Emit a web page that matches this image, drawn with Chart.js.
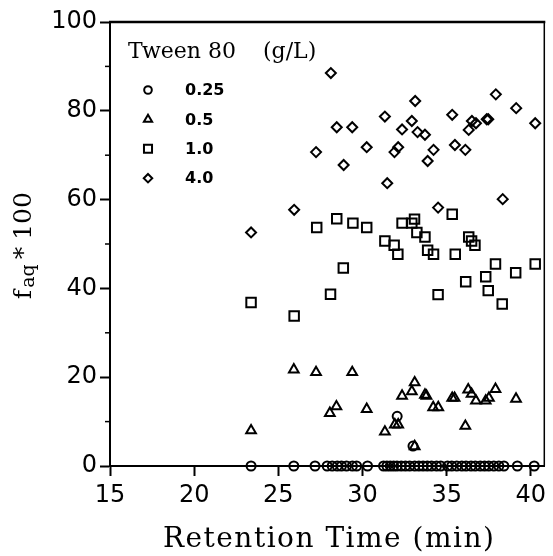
<!DOCTYPE html>
<html><head><meta charset="utf-8">
<script src="https://cdn.jsdelivr.net/npm/chart.js@4.4.0/dist/chart.umd.min.js"></script>
<style>html,body{margin:0;padding:0;background:#fff;}canvas{display:block;}</style>
</head><body>
<canvas id="c" width="553" height="556"></canvas>
<script>
// ---- data ----
const seriesNames = ['0.25', '0.5', '1.0', '4.0'];
const legendTitle = 'Tween 80';
const legendUnit = '(g/L)';
const xTitle = 'Retention Time (min)';
const xTicks = [15, 20, 25, 30, 35, 40];
const yTicks = [0, 20, 40, 60, 80, 100];
const yMinorTicks = [10, 30, 50, 70, 90];

// 0.25 g/L (circles)
const timeC = [23.38, 25.92, 27.18, 27.9, 28.2, 28.5, 28.75, 29.05, 29.4, 29.65, 30.3, 31.25, 31.45, 31.65, 31.85, 32.05, 32.06, 32.3, 32.55, 32.8, 33.0, 33.1, 33.35, 33.6, 33.85, 34.1, 34.4, 34.65, 35.05, 35.3, 35.6, 35.9, 36.15, 36.45, 36.7, 37.0, 37.25, 37.5, 37.8, 38.1, 38.4, 39.2, 40.2];
const faqC  = [0, 0, 0, 0, 0, 0, 0, 0, 0, 0, 0, 0, 0, 0, 0, 0, 11.2, 0, 0, 0, 4.5, 0, 0, 0, 0, 0, 0, 0, 0, 0, 0, 0, 0, 0, 0, 0, 0, 0, 0, 0, 0, 0, 0];
// 0.5 g/L (triangles)
const timeT = [23.38, 25.92, 27.24, 28.06, 28.45, 29.39, 30.25, 31.33, 31.92, 32.12, 32.35, 32.93, 33.1, 33.1, 33.71, 33.8, 34.2, 34.5, 35.33, 35.47, 36.11, 36.28, 36.48, 36.74, 37.32, 37.51, 37.9, 39.12];
const faqT  = [8.0, 21.7, 21.1, 11.9, 13.4, 21.1, 12.8, 7.7, 9.3, 9.3, 15.8, 16.8, 18.8, 4.4, 16.0, 15.8, 13.2, 13.2, 15.3, 15.3, 9.0, 17.2, 16.2, 14.7, 14.7, 15.3, 17.3, 15.1];
// 1.0 g/L (squares)
const timeS = [23.38, 25.94, 27.28, 28.1, 28.47, 28.86, 29.43, 30.25, 31.33, 31.88, 32.1, 32.35, 32.93, 33.09, 33.23, 33.71, 33.87, 34.22, 34.49, 35.33, 35.51, 36.13, 36.31, 36.48, 36.68, 37.32, 37.47, 37.9, 38.3, 39.1, 40.26];
const faqS  = [36.8, 33.8, 53.7, 38.7, 55.7, 44.6, 54.7, 53.7, 50.7, 49.7, 47.7, 54.7, 54.7, 55.6, 52.6, 51.6, 48.6, 47.7, 38.6, 56.7, 47.7, 41.5, 51.6, 50.7, 49.7, 42.6, 39.5, 45.5, 36.5, 43.5, 45.5];
// 4.0 g/L (diamonds)
const timeD = [23.38, 25.94, 27.24, 28.12, 28.47, 28.88, 29.39, 30.25, 31.33, 31.47, 31.9, 32.12, 32.35, 32.93, 33.13, 33.27, 33.71, 33.87, 34.22, 34.49, 35.33, 35.49, 36.11, 36.31, 36.5, 36.74, 37.38, 37.47, 37.92, 38.33, 39.13, 40.26];
const faqD  = [52.6, 57.7, 70.7, 88.5, 76.3, 67.8, 76.3, 71.8, 78.7, 63.7, 70.7, 71.8, 75.8, 77.7, 82.2, 75.2, 74.6, 68.7, 71.2, 58.2, 79.1, 72.3, 71.2, 75.7, 77.7, 77.2, 78.1, 78.1, 83.7, 60.1, 80.6, 77.2];

// ---- styles ----
const pointStyles = ['circle', 'triangle', 'rect', 'rectRot'];
const radii = [4.5, 5.6, 6.7, 5];
const zip = (a, b) => a.map((v, i) => ({x: v, y: b[i]}));
const series = [zip(timeC, faqC), zip(timeT, faqT), zip(timeS, faqS), zip(timeD, faqD)];

function drawMarker(ctx, style, x, y, r) {
  ctx.beginPath();
  if (style === 'circle') {
    ctx.arc(x, y, r, 0, Math.PI * 2);
  } else if (style === 'triangle') {
    for (let k = 0; k < 3; k++) {
      const a = -Math.PI / 2 + k * 2 * Math.PI / 3;
      const px = x + Math.cos(a) * r, py = y + Math.sin(a) * r;
      k ? ctx.lineTo(px, py) : ctx.moveTo(px, py);
    }
    ctx.closePath();
  } else if (style === 'rect') {
    const h = r * Math.SQRT1_2;
    ctx.rect(x - h, y - h, 2 * h, 2 * h);
  } else {
    ctx.moveTo(x, y - r); ctx.lineTo(x + r, y); ctx.lineTo(x, y + r); ctx.lineTo(x - r, y); ctx.closePath();
  }
  ctx.stroke();
}

const decor = {
  id: 'decor',
  afterDraw(chart) {
    const {ctx, chartArea: a, scales: {y}} = chart;
    ctx.save();
    ctx.strokeStyle = '#000';
    ctx.fillStyle = '#000';
    // top & right frame
    ctx.lineWidth = 2.5;
    ctx.beginPath(); ctx.moveTo(a.left - 1, a.top); ctx.lineTo(a.right + 1, a.top); ctx.stroke();
    ctx.lineWidth = 1.5;
    ctx.beginPath(); ctx.moveTo(a.right, a.top); ctx.lineTo(a.right, a.bottom); ctx.stroke();
    // minor y ticks
    ctx.lineWidth = 1.5;
    yMinorTicks.forEach(v => {
      const py = y.getPixelForValue(v);
      ctx.beginPath(); ctx.moveTo(a.left - 5, py); ctx.lineTo(a.left, py); ctx.stroke();
    });
    // legend
    ctx.textAlign = 'left';
    ctx.textBaseline = 'alphabetic';
    ctx.font = '22px "DejaVu Serif"';
    ctx.fillText(legendTitle, a.left + 18, a.top + 36);
    ctx.fillText(legendUnit, a.left + 153, a.top + 36);
    ctx.font = 'bold 16px "DejaVu Sans"';
    ctx.textBaseline = 'middle';
    ctx.lineWidth = 2;
    seriesNames.forEach((name, i) => {
      const ly = a.top + 68 + i * 29.4;
      drawMarker(ctx, pointStyles[i], a.left + 38, ly, radii[i] * 0.85);
      ctx.fillText(name, a.left + 75, ly + 1);
    });
    // x-axis title
    ctx.textAlign = 'center';
    ctx.textBaseline = 'alphabetic';
    ctx.font = '28px "DejaVu Serif"';
    try { ctx.letterSpacing = '1.5px'; } catch (e) {}
    ctx.fillText(xTitle, (a.left + a.right) / 2 + 2, 547);
    try { ctx.letterSpacing = '0px'; } catch (e) {}
    // y-axis title with subscript
    const parts = [
      {t: 'f', size: 25, y: 294.5, base: 31},
      {t: 'aq', size: 19, y: 276, base: 34},
      {t: '*', size: 25, y: 253, base: 31},
      {t: '100', size: 25, y: 216, base: 31}
    ];
    parts.forEach(p => {
      ctx.save();
      ctx.translate(p.base, p.y);
      ctx.rotate(-Math.PI / 2);
      ctx.font = p.size + 'px "DejaVu Serif"';
      ctx.fillText(p.t, 0, 0);
      ctx.restore();
    });
    ctx.restore();
  }
};

new Chart(document.getElementById('c'), {
  type: 'scatter',
  data: {
    datasets: series.map((d, i) => ({
      label: seriesNames[i],
      data: d,
      pointStyle: pointStyles[i],
      pointRadius: radii[i],
      pointHoverRadius: radii[i],
      borderColor: '#000',
      backgroundColor: 'rgba(0,0,0,0)',
      pointBorderWidth: 2,
      clip: false
    }))
  },
  options: {
    responsive: false,
    animation: false,
    devicePixelRatio: 1,
    layout: {padding: {left: 0, top: 22, right: 2, bottom: 0}},
    plugins: {legend: {display: false}, tooltip: {enabled: false}},
    scales: {
      x: {
        type: 'linear', min: 15, max: 40.8,
        afterBuildTicks: s => { s.ticks = xTicks.map(v => ({value: v})); },
        afterFit: s => { s.height = 90; },
        grid: {display: true, drawOnChartArea: false, drawTicks: true, tickLength: 10, tickWidth: 2, tickColor: '#000'},
        border: {display: true, color: '#000', width: 2},
        ticks: {color: '#000', padding: 5, font: {family: 'DejaVu Sans', size: 24}, maxRotation: 0},
        title: {display: false, text: xTitle}
      },
      y: {
        type: 'linear', min: 0, max: 100,
        afterBuildTicks: s => { s.ticks = yTicks.map(v => ({value: v})); },
        afterFit: s => { s.width = 110; },
        grid: {display: true, drawOnChartArea: false, drawTicks: true, tickLength: 10, tickWidth: 2, tickColor: '#000'},
        border: {display: true, color: '#000', width: 2},
        ticks: {color: '#000', padding: 3, font: {family: 'DejaVu Sans', size: 24}}
      }
    }
  },
  plugins: [decor]
});
</script>
</body></html>
